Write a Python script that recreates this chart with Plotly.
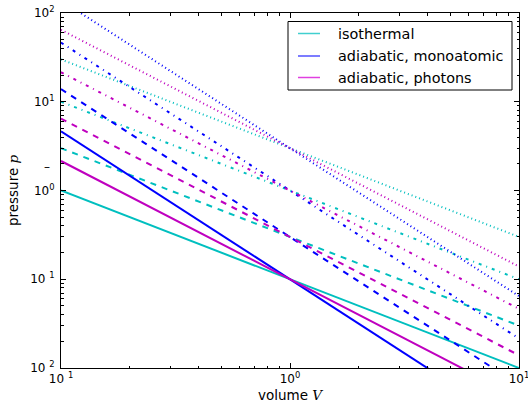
import plotly.graph_objects as go

# Volume endpoints (V) and pressure values at those endpoints
volume = [0.1, 10]

iso_solid = [1.0, 0.01]
iso_dashed = [3.0, 0.03]
iso_dashdot = [10.0, 0.1]
iso_dotted = [30.0, 0.3]

mono_solid = [4.64, 0.00215]
mono_dashed = [13.9, 0.00646]
mono_dashdot = [46.4, 0.0215]
mono_dotted = [139.0, 0.0646]

phot_solid = [2.15, 0.00464]
phot_dashed = [6.46, 0.0139]
phot_dashdot = [21.5, 0.0464]
phot_dotted = [64.6, 0.139]

series_names = ["isothermal", "adiabatic, monoatomic", "adiabatic, photons"]
y_tickvals = [100, 10, 1, 0.1, 0.01]
y_ticktext = ["10<sup>2</sup>", "10<sup>1</sup>", "10<sup>0</sup>", "10 <sup>1</sup>", "10 <sup>2</sup>"]
x_tickvals = [0.1, 1, 10]
x_ticktext = ["10 <sup>1</sup>", "10<sup>0</sup>", "10<sup>1</sup>"]

colors = ["#00bfbf", "#0000ff", "#bf00bf"]
legend_colors = ["#40cfcf", "#5050ff", "#e040e0"]
dashes = ["solid", "6px,6px", "3px,5px,1px,5px", "1px,3px"]

groups = [
    [iso_solid, iso_dashed, iso_dashdot, iso_dotted],
    [mono_solid, mono_dashed, mono_dashdot, mono_dotted],
    [phot_solid, phot_dashed, phot_dashdot, phot_dotted],
]

W, H = 528, 403
L, R, T, B = 61, 9, 13, 35

def px_x(px):
    return (px - L) / (W - L - R)

def px_y(py):
    return (H - B - py) / (H - T - B)

def minor_vals(lo_exp, hi_exp):
    out = []
    for e in range(lo_exp, hi_exp):
        for m in range(2, 10):
            out.append(m * 10.0 ** e)
    return out

fig = go.Figure()
for gi, grp in enumerate(groups):
    for di, vals in enumerate(grp):
        fig.add_trace(go.Scatter(
            x=volume, y=vals, mode="lines",
            name=series_names[gi],
            line=dict(color=colors[gi], width=2, dash=dashes[di]),
            showlegend=False, hoverinfo="skip",
        ))

font = "DejaVu Sans, sans-serif"
fig.update_layout(
    width=W, height=H,
    margin=dict(l=L, r=R, t=T, b=B, autoexpand=False),
    paper_bgcolor="white", plot_bgcolor="white",
    font=dict(family=font, size=12, color="black"),
    showlegend=False,
)

# legend box drawn as in the reference (matplotlib-style)
fig.add_shape(type="rect", xref="paper", yref="paper",
              x0=px_x(288), x1=px_x(512), y0=px_y(90), y1=px_y(21.5),
              line=dict(color="black", width=1), fillcolor="white", layer="above")
row_y = [33.5, 56, 77.5]
for gi, name in enumerate(series_names):
    fig.add_shape(type="line", xref="paper", yref="paper",
                  x0=px_x(298), x1=px_x(320), y0=px_y(row_y[gi]), y1=px_y(row_y[gi]),
                  line=dict(color=legend_colors[gi], width=1.5), layer="above")
    fig.add_annotation(x=px_x(336), y=px_y(row_y[gi]), xref="paper", yref="paper",
                       xanchor="left", yanchor="middle", text=name, showarrow=False,
                       font=dict(family=font, size=14.4, color="black"))

fig.update_xaxes(
    type="log", range=[-1, 1],
    showline=True, linecolor="black", linewidth=1, mirror="ticks",
    showgrid=False, zeroline=False,
    ticks="inside", ticklen=5, tickcolor="black",
    tickvals=x_tickvals, ticktext=x_ticktext,
    ticklabeloverflow="allow",
    minor=dict(ticks="inside", ticklen=2.5, tickcolor="black", showgrid=False,
               tickvals=minor_vals(-1, 1)),
    tickfont=dict(size=12),
    title=dict(text="volume <i><span style='font-family:DejaVu Serif'>V</span></i>",
               font=dict(size=13.5), standoff=6),
    automargin=False,
)
fig.update_yaxes(
    type="log", range=[-2, 2],
    showline=True, linecolor="black", linewidth=1, mirror="ticks",
    showgrid=False, zeroline=False,
    ticks="inside", ticklen=5, tickcolor="black",
    tickvals=y_tickvals, ticktext=y_ticktext,
    ticklabeloverflow="allow",
    minor=dict(ticks="inside", ticklen=2.5, tickcolor="black", showgrid=False,
               tickvals=minor_vals(-2, 2)),
    tickfont=dict(size=12),
    ticklabelstandoff=3,
    title=dict(text="pressure <i><span style='font-family:DejaVu Serif'>p</span></i>",
               font=dict(size=13.5), standoff=8),
    automargin=False,
)
# stray minus glyphs as rendered in the reference tick labels
for yv in [10 ** 0.42, 10 ** (-0.58)]:
    fig.add_annotation(
        x=0, xref="paper", xanchor="right", xshift=-9,
        y=yv, yref="y", yanchor="middle", text="\u2013", showarrow=False,
        font=dict(size=12, family=font),
    )

fig.write_html("out.html")
